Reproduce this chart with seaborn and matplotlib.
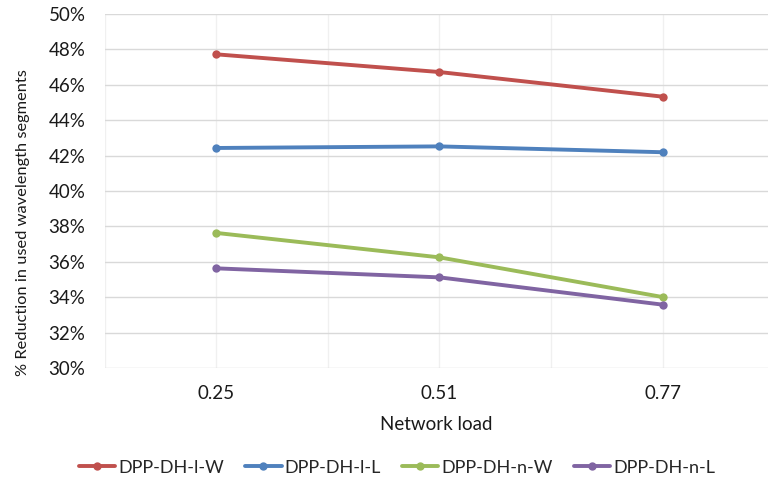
import matplotlib
matplotlib.use("Agg")
import matplotlib.pyplot as plt
from matplotlib.ticker import FixedLocator, FuncFormatter
import seaborn as sns
import pandas as pd

# Network load levels and reduction (%) per scheme
loads = [0.25, 0.51, 0.77]
series_names = ["DPP-DH-l-W", "DPP-DH-l-L", "DPP-DH-n-W", "DPP-DH-n-L"]
dpp_l_w = [47.72, 46.72, 45.33]
dpp_l_l = [42.43, 42.52, 42.19]
dpp_n_w = [37.63, 36.25, 34.01]
dpp_n_l = [35.63, 35.12, 33.58]
colors = ["#C0504D", "#4F81BD", "#9BBB59", "#8064A2"]
y_ticks = [30, 32, 34, 36, 38, 40, 42, 44, 46, 48, 50]

rows = []
for name, vals in zip(series_names, [dpp_l_w, dpp_l_l, dpp_n_w, dpp_n_l]):
    for x, v in zip(loads, vals):
        rows.append({"load": x, "reduction": v, "scheme": name})
df = pd.DataFrame(rows)

sns.set_theme(style="white")
plt.rcParams["font.family"] = ["Lato", "DejaVu Sans"]

fig = plt.figure(figsize=(7.68, 4.82), dpi=100)
ax = fig.add_axes([0.1367, 0.2365, 0.8633, 0.7345])

sns.lineplot(data=df, x="load", y="reduction", hue="scheme",
             hue_order=series_names, palette=colors, marker="o",
             markersize=6, markeredgewidth=0, linewidth=2.8, ax=ax,
             legend=True)

ax.set_xlim(0.12, 0.893)
ax.set_ylim(30, 50)
ax.yaxis.set_major_locator(FixedLocator(y_ticks))
ax.yaxis.set_major_formatter(FuncFormatter(lambda v, p: f"{v:.0f}%"))
ax.xaxis.set_major_locator(FixedLocator(loads))
ax.xaxis.set_minor_locator(FixedLocator([0.12, 0.38, 0.64, 0.90]))
ax.xaxis.set_major_formatter(FuncFormatter(lambda v, p: f"{v:.2f}"))

ax.grid(axis="y", color="#d9d9d9", linewidth=1.0)
ax.grid(axis="x", which="both", color="#f0f0f0", linewidth=1.0)
ax.set_axisbelow(True)
for s in ax.spines.values():
    s.set_visible(False)
ax.tick_params(axis="both", which="both", length=0, labelsize=13.5,
               colors="#1a1a1a")
ax.tick_params(axis="x", pad=12)
ax.tick_params(axis="y", pad=14)

ax.set_xlabel("Network load", fontsize=13.5, color="#1a1a1a", labelpad=10)
ax.set_ylabel("% Reduction in used wavelength segments", fontsize=11.8,
              color="#1a1a1a")
ax.yaxis.set_label_coords(-0.113, 0.41)

handles, labels = ax.get_legend_handles_labels()
ax.legend(handles, labels, loc="center", bbox_to_anchor=(0.517, 0.03),
          bbox_transform=fig.transFigure, ncol=4, frameon=False,
          fontsize=13, handlelength=2.0, handletextpad=0.15,
          columnspacing=1.2)

fig.savefig("out.png", dpi=100)
